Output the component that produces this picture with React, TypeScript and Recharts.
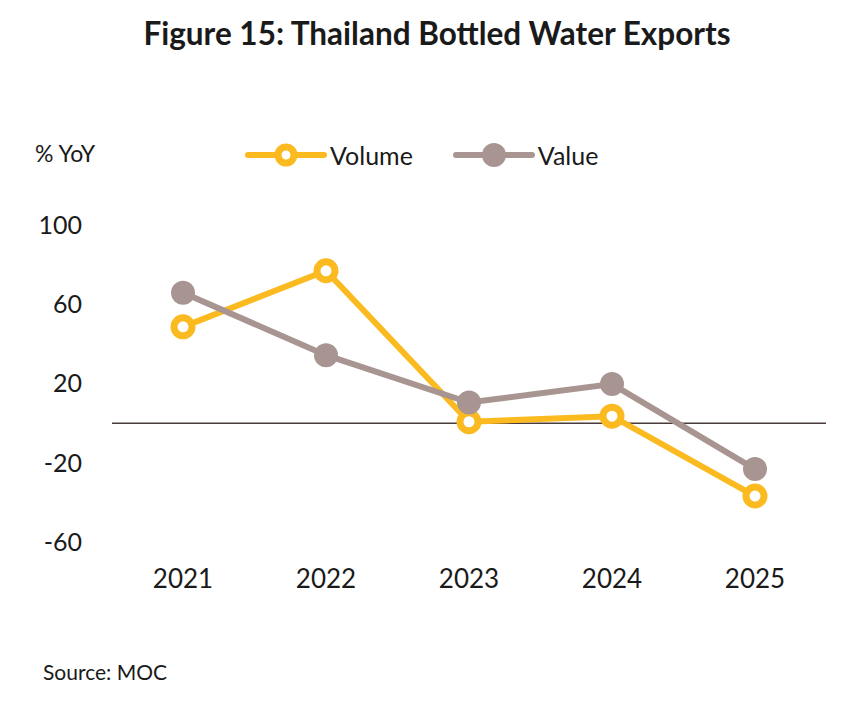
import {
  LineChart,
  Line,
  XAxis,
  YAxis,
  ReferenceLine,
} from 'recharts';

// data (% YoY)
const years = ['2021', '2022', '2023', '2024', '2025'];
const volume = [48.6, 76.9, 0.7, 3.5, -36.8];
const value = [65.8, 34.3, 10.4, 19.7, -23.2];
const yTicks = [-60, -20, 20, 60, 100];

const VOLUME_COLOR = '#FBBA1F';
const VALUE_COLOR = '#A89592';
const FONT = 'Lato, "Open Sans", sans-serif';

const rows = years.map((year, i) => ({
  year,
  volume: volume[i],
  value: value[i],
}));

// legend drawn like Excel: a short line with the marker on top
function LegendContent() {
  const items = [
    { name: 'Volume', color: VOLUME_COLOR, hollow: true },
    { name: 'Value', color: VALUE_COLOR, hollow: false },
  ];
  return (
    <div style={{ display: 'flex', alignItems: 'center', gap: 40 }}>
      {items.map((it) => (
        <div key={it.name} style={{ display: 'flex', alignItems: 'center' }}>
          <svg width={82} height={30}>
            <line x1={3} y1={15} x2={79} y2={15} stroke={it.color} strokeWidth={6} strokeLinecap="round" />
            {it.hollow ? (
              <circle cx={41} cy={15} r={8} fill="#fff" stroke={it.color} strokeWidth={7} />
            ) : (
              <circle cx={41} cy={15} r={12} fill={it.color} />
            )}
          </svg>
          <span style={{ fontSize: 25, color: '#1a1a1a', marginLeft: 3 }}>{it.name}</span>
        </div>
      ))}
    </div>
  );
}

export default function App() {
  return (
    <div
      style={{
        position: 'absolute',
        left: 0,
        top: 0,
        width: 855,
        height: 704,
        background: '#fff',
        fontFamily: FONT,
      }}
    >
      <div
        style={{
          position: 'absolute',
          top: 14,
          left: 0,
          width: 874,
          textAlign: 'center',
          fontSize: 31.5,
          fontWeight: 700,
          color: '#1a1a1a',
        }}
      >
        Figure 15: Thailand Bottled Water Exports
      </div>
      <div style={{ position: 'absolute', left: 35, top: 139, fontSize: 23, color: '#1a1a1a' }}>
        % YoY
      </div>
      <div style={{ position: 'absolute', left: 245, top: 140 }}>
        <LegendContent />
      </div>

      <div style={{ position: 'absolute', left: 0, top: 0 }}>
        <LineChart
          width={855}
          height={704}
          data={rows}
          margin={{ top: 225, right: 29, bottom: 132, left: 0 }}
        >
          <XAxis
            dataKey="year"
            axisLine={false}
            tickLine={false}
            padding={{ left: 71, right: 71 }}
            tickMargin={22}
            tick={{ fontSize: 26, fill: '#1a1a1a', fontFamily: FONT }}
          />
          <YAxis
            type="number"
            domain={[-60, 100]}
            ticks={yTicks}
            width={112}
            axisLine={false}
            tickLine={false}
            tickSize={0}
            tickMargin={30}
            tick={{ fontSize: 25, fill: '#1a1a1a', fontFamily: FONT }}
          />
          <ReferenceLine y={0} stroke="#4a3b3b" strokeWidth={1.5} />
          <Line
            dataKey="volume"
            name="Volume"
            stroke={VOLUME_COLOR}
            strokeWidth={6}
            dot={{ r: 9, fill: '#fff', stroke: VOLUME_COLOR, strokeWidth: 7 }}
            activeDot={false}
            isAnimationActive={false}
          />
          <Line
            dataKey="value"
            name="Value"
            stroke={VALUE_COLOR}
            strokeWidth={6}
            dot={{ r: 12, fill: VALUE_COLOR, stroke: 'none' }}
            activeDot={false}
            isAnimationActive={false}
          />
        </LineChart>
      </div>

      <div style={{ position: 'absolute', left: 43, top: 659, fontSize: 21, color: '#1a1a1a' }}>
        Source: MOC
      </div>
    </div>
  );
}
